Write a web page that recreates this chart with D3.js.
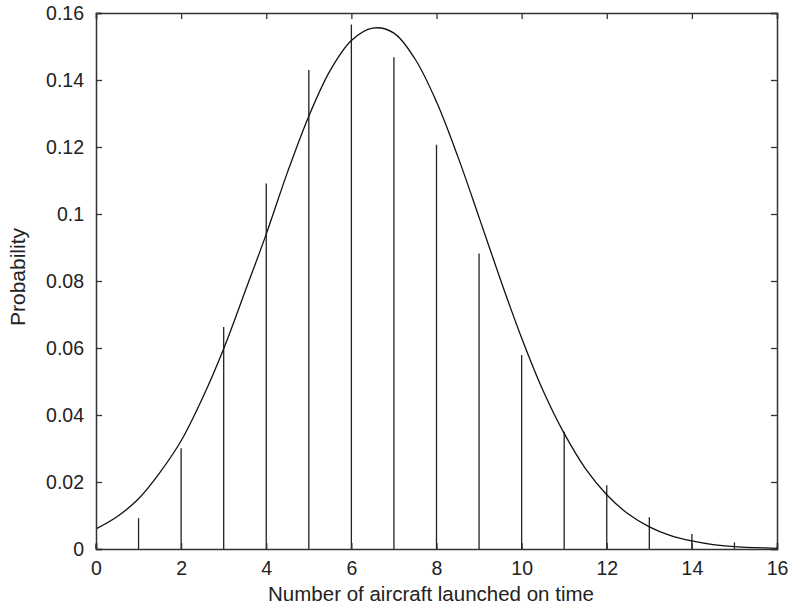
<!DOCTYPE html>
<html>
<head>
<meta charset="utf-8">
<script src="https://cdn.jsdelivr.net/npm/d3@7"></script>
<style>
  body { margin: 0; background: #fff; }
  svg text { font-family: "Liberation Sans", Arial, Helvetica, sans-serif; fill: #222; }
</style>
</head>
<body>
<svg id="chart" width="791" height="611"></svg>
<script>
// Stem (probability mass) data
const stemX = [0, 1, 2, 3, 4, 5, 6, 7, 8, 9, 10, 11, 12, 13, 14, 15, 16];
const stemY = [0.0015, 0.0092, 0.0301, 0.0663, 0.1091, 0.1430, 0.1566, 0.1468, 0.1207, 0.0882, 0.0579, 0.0350, 0.0190, 0.0095, 0.0045, 0.0020, 0.0007];

// Continuous approximation curve
const curveX = [0, 0.5, 1, 1.5, 2, 2.5, 3, 3.5, 4, 4.5, 5, 5.5, 6, 6.5, 7, 7.5, 8, 8.5, 9, 9.5, 10, 10.5, 11, 11.5, 12, 12.5, 13, 13.5, 14, 14.5, 15, 15.5, 16];
const curveY = [0.0060, 0.0097, 0.0150, 0.0228, 0.0323, 0.0450, 0.0598, 0.0768, 0.0940, 0.1125, 0.1292, 0.1428, 0.1518, 0.1555, 0.1540, 0.1462, 0.1335, 0.1172, 0.0990, 0.0805, 0.0630, 0.0474, 0.0345, 0.0240, 0.0162, 0.0105, 0.0066, 0.0040, 0.0024, 0.0013, 0.0007, 0.0004, 0.0002];

const xTicks = [0, 2, 4, 6, 8, 10, 12, 14, 16];
const yTicks = [0, 0.02, 0.04, 0.06, 0.08, 0.1, 0.12, 0.14, 0.16];
const xLabel = "Number of aircraft launched on time";
const yLabel = "Probability";

const svg = d3.select("#chart");
const m = { left: 96, right: 791 - 777, top: 13, bottom: 611 - 549 };
const W = 791 - m.left - m.right;
const H = 611 - m.top - m.bottom;

const x = d3.scaleLinear().domain([0, 16]).range([m.left, m.left + W]);
const y = d3.scaleLinear().domain([0, 0.16]).range([m.top + H, m.top]);

const axisColor = "#333";
const fmt = d => (d === 0 ? "0" : String(+d.toFixed(2)));

// Stems
svg.append("g").selectAll("line").data(stemX.map((d, i) => [d, stemY[i]])).join("line")
  .attr("x1", d => x(d[0])).attr("x2", d => x(d[0]))
  .attr("y1", y(0)).attr("y2", d => y(d[1]))
  .attr("stroke", "#222").attr("stroke-width", 1.3);

// Curve
svg.append("path")
  .datum(curveX.map((d, i) => [d, curveY[i]]))
  .attr("d", d3.line().x(d => x(d[0])).y(d => y(d[1])).curve(d3.curveCatmullRom))
  .attr("fill", "none").attr("stroke", "#111").attr("stroke-width", 1.3);

// Axes with inward ticks
const gx = svg.append("g").attr("transform", `translate(0,${y(0)})`)
  .call(d3.axisBottom(x).tickValues(xTicks).tickSize(-6).tickPadding(12).tickFormat(fmt));
const gxTop = svg.append("g").attr("transform", `translate(0,${y(0.16)})`)
  .call(d3.axisTop(x).tickValues(xTicks).tickSize(-6).tickFormat(""));
const gy = svg.append("g").attr("transform", `translate(${x(0)},0)`)
  .call(d3.axisLeft(y).tickValues(yTicks).tickSize(-6).tickPadding(12).tickFormat(fmt));
const gyR = svg.append("g").attr("transform", `translate(${x(16)},0)`)
  .call(d3.axisRight(y).tickValues(yTicks).tickSize(-6).tickFormat(""));

[gx, gxTop, gy, gyR].forEach(g => {
  g.select(".domain").attr("stroke", axisColor).attr("stroke-width", 1.5);
  g.selectAll(".tick line").attr("stroke", axisColor).attr("stroke-width", 1.3);
  g.selectAll(".tick text").attr("font-size", 19.5).attr("fill", "#222")
    .style("font-family", '"Liberation Sans", Arial, sans-serif');
});

// Axis titles
svg.append("text")
  .attr("x", 431).attr("y", 601)
  .attr("text-anchor", "middle").attr("font-size", 20.5)
  .text(xLabel);
svg.append("text")
  .attr("transform", `translate(25,277) rotate(-90)`)
  .attr("text-anchor", "middle").attr("font-size", 21)
  .text(yLabel);
</script>
</body>
</html>
